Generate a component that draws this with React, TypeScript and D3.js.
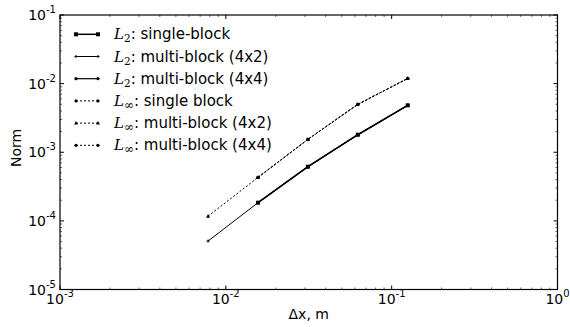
import * as d3 from "d3";
import React from "react";

// grid spacing (m)
const dx5 = [0.0078125, 0.015625, 0.03125, 0.0625, 0.125];
const dx4 = [0.015625, 0.03125, 0.0625, 0.125];

// norms
const l2Single = [1.84e-4, 6.15e-4, 1.8e-3, 4.83e-3];
const l2Multi4x2 = [5.08e-5, 1.84e-4, 6.15e-4, 1.8e-3, 4.83e-3];
const l2Multi4x4 = [1.84e-4, 6.15e-4, 1.8e-3, 4.83e-3];
const lInfSingle = [4.3e-4, 1.54e-3, 4.99e-3, 1.19e-2];
const lInfMulti4x2 = [1.17e-4, 4.3e-4, 1.54e-3, 4.99e-3, 1.19e-2];
const lInfMulti4x4 = [4.3e-4, 1.54e-3, 4.99e-3, 1.19e-2];

const xDecades = [-3, -2, -1, 0];
const yDecades = [-5, -4, -3, -2, -1];

type Series = {
  norm: "2" | "∞";
  label: string;
  xs: number[];
  ys: number[];
  width: number;
  dash?: string;
  marker: "square" | "plus" | "dot" | "tri";
};

const series: Series[] = [
  { norm: "2", label: ": single-block", xs: dx4, ys: l2Single, width: 1.5, marker: "square" },
  { norm: "2", label: ": multi-block (4x2)", xs: dx5, ys: l2Multi4x2, width: 1, marker: "plus" },
  { norm: "2", label: ": multi-block (4x4)", xs: dx4, ys: l2Multi4x4, width: 1.2, marker: "dot" },
  { norm: "∞", label: ": single block", xs: dx4, ys: lInfSingle, width: 1, dash: "2,2", marker: "dot" },
  { norm: "∞", label: ": multi-block (4x2)", xs: dx5, ys: lInfMulti4x2, width: 1, dash: "2,2", marker: "tri" },
  { norm: "∞", label: ": multi-block (4x4)", xs: dx4, ys: lInfMulti4x4, width: 1, dash: "2,2", marker: "dot" },
];

const W = 570;
const H = 327;
const m = { left: 60, right: 12.5, top: 15, bottom: 37.5 };

const Marker: React.FC<{ kind: Series["marker"]; x: number; y: number }> = ({ kind, x, y }) => {
  if (kind === "square") return <rect x={x - 2} y={y - 2} width={4} height={4} fill="#000" />;
  if (kind === "plus")
    return <path d={`M${x - 1.5},${y}H${x + 1.5}M${x},${y - 1.5}V${y + 1.5}`} stroke="#000" strokeWidth={1} />;
  if (kind === "tri") return <path d={`M${x},${y - 2.2}L${x + 2},${y + 1.5}L${x - 2},${y + 1.5}Z`} fill="#000" />;
  return <circle cx={x} cy={y} r={1.6} fill="#000" />;
};

const Pow: React.FC<{ e: number; x: number; y: number; anchor: string }> = ({ e, x, y, anchor }) => (
  <text x={x} y={y} textAnchor={anchor} fontSize={14} fill="#000">
    10
    <tspan fontSize={10} dy={-7}>
      {e}
    </tspan>
  </text>
);

export default function App() {
  const x = d3.scaleLog().domain([1e-3, 1]).range([m.left, W - m.right]);
  const y = d3.scaleLog().domain([1e-5, 1e-1]).range([H - m.bottom, m.top]);
  const line = d3
    .line<[number, number]>()
    .x((d) => x(d[0]))
    .y((d) => y(d[1]));

  const x0 = m.left;
  const x1 = W - m.right;
  const y0 = H - m.bottom;
  const y1 = m.top;

  const xMinor: number[] = [];
  xDecades.slice(0, -1).forEach((e) => {
    for (let k = 2; k < 10; k++) xMinor.push(k * Math.pow(10, e));
  });
  const yMinor: number[] = [];
  yDecades.slice(0, -1).forEach((e) => {
    for (let k = 2; k < 10; k++) yMinor.push(k * Math.pow(10, e));
  });

  return (
    <div style={{ position: "fixed", left: 0, top: 0 }}>
      <svg width={W} height={H} style={{ display: "block", background: "#fff" }} fontFamily="DejaVu Sans">
        {/* ticks */}
        <g stroke="#000" strokeWidth={1}>
          {xDecades.map((e) => {
            const px = x(Math.pow(10, e));
            return (
              <g key={"xt" + e}>
                <line x1={px} x2={px} y1={y0} y2={y0 - 4} />
                <line x1={px} x2={px} y1={y1} y2={y1 + 4} />
              </g>
            );
          })}
          {xMinor.map((v) => (
            <g key={"xm" + v} strokeWidth={0.6}>
              <line x1={x(v)} x2={x(v)} y1={y0} y2={y0 - 2} />
              <line x1={x(v)} x2={x(v)} y1={y1} y2={y1 + 2} />
            </g>
          ))}
          {yDecades.map((e) => {
            const py = y(Math.pow(10, e));
            return (
              <g key={"yt" + e}>
                <line x1={x0} x2={x0 + 4} y1={py} y2={py} />
                <line x1={x1} x2={x1 - 4} y1={py} y2={py} />
              </g>
            );
          })}
          {yMinor.map((v) => (
            <g key={"ym" + v} strokeWidth={0.6}>
              <line x1={x0} x2={x0 + 2} y1={y(v)} y2={y(v)} />
              <line x1={x1} x2={x1 - 2} y1={y(v)} y2={y(v)} />
            </g>
          ))}
        </g>

        {/* series */}
        {series.map((s, i) => {
          const pts = s.xs.map((v, j) => [v, s.ys[j]] as [number, number]);
          return (
            <g key={"s" + i}>
              <path d={line(pts) ?? ""} fill="none" stroke="#000" strokeWidth={s.width} strokeDasharray={s.dash} />
              {pts.map((p, j) => (
                <Marker key={j} kind={s.marker} x={x(p[0])} y={y(p[1])} />
              ))}
            </g>
          );
        })}

        {/* frame */}
        <rect x={x0} y={y1} width={x1 - x0} height={y0 - y1} fill="none" stroke="#000" strokeWidth={1.2} />

        {/* tick labels */}
        {xDecades.map((e) => (
          <Pow key={"xl" + e} e={e} x={x(Math.pow(10, e))} y={y0 + 14} anchor="middle" />
        ))}
        {yDecades.map((e) => (
          <Pow key={"yl" + e} e={e} x={x0 - 4} y={y(Math.pow(10, e)) + 5} anchor="end" />
        ))}

        {/* axis titles */}
        <text x={(x0 + x1) / 2} y={319} textAnchor="middle" fontSize={14}>
          Δx, m
        </text>
        <text transform={`translate(21,148) rotate(-90)`} textAnchor="middle" fontSize={14}>
          Norm
        </text>

        {/* legend */}
        {series.map((s, i) => {
          const ly = 34.3 + i * 22.2;
          return (
            <g key={"lg" + i}>
              <line x1={76} x2={98} y1={ly} y2={ly} stroke="#000" strokeWidth={s.width} strokeDasharray={s.dash} />
              <Marker kind={s.marker} x={76} y={ly} />
              <Marker kind={s.marker} x={98} y={ly} />
              <text x={114} y={ly + 5} fontSize={15}>
                <tspan fontFamily="DejaVu Serif" fontStyle="italic">
                  L
                </tspan>
                <tspan fontFamily="DejaVu Serif" fontSize={s.norm === "∞" ? 12 : 10.5} dy={3}>
                  {s.norm}
                </tspan>
                <tspan dy={-3}>{s.label}</tspan>
              </text>
            </g>
          );
        })}
      </svg>
    </div>
  );
}
